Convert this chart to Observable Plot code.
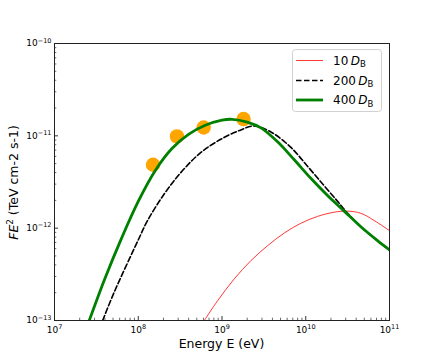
<!DOCTYPE html>
<html>
<head>
<meta charset="utf-8">
<script src="https://cdn.jsdelivr.net/npm/d3@7"></script>
<script src="https://cdn.jsdelivr.net/npm/@observablehq/plot@0.6"></script>
<style>
  html, body { margin: 0; padding: 0; background: #fff; }
  #chart { position: absolute; left: 0; top: 0; }
</style>
</head>
<body>
<div id="chart"></div>
<script>
// ---- data ----
const seriesLabels = ["10", "200", "400"];

const energy10 = [6.15e8, 8.87e8, 1.40e9, 2.22e9, 3.51e9, 5.55e9, 8.75e9, 1.38e10, 2.19e10, 3.16e10, 4.55e10, 6.56e10, 1.0e11];
const flux10   = [1.00e-13, 1.64e-13, 2.82e-13, 4.46e-13, 6.47e-13, 8.87e-13, 1.13e-12, 1.34e-12, 1.49e-12, 1.53e-12, 1.45e-12, 1.21e-12, 9.40e-13];

const energy200 = [3.76e7, 5.13e7, 1.0e8, 1.29e8, 2.04e8, 3.24e8, 5.60e8, 1.0e9, 1.68e9, 2.42e9, 3.84e9, 6.64e9, 1.05e10, 1.66e10, 2.40e10, 3.16e10, 4.55e10, 7.19e10, 1.0e11];
const flux200   = [1.00e-13, 2.00e-13, 7.45e-13, 1.205e-12, 2.34e-12, 4.02e-12, 6.61e-12, 9.33e-12, 1.16e-11, 1.28e-11, 1.10e-11, 7.50e-12, 4.68e-12, 2.88e-12, 1.95e-12, 1.45e-12, 1.035e-12, 7.33e-13, 5.81e-13];

const energy400 = [2.60e7, 3.98e7, 6.31e7, 1.0e8, 1.585e8, 2.51e8, 3.98e8, 6.31e8, 1.0e9, 1.32e9, 2.0e9, 2.92e9, 4.61e9, 7.29e9, 1.15e10, 1.82e10, 2.88e10, 4.55e10, 7.19e10, 1.0e11];
const flux400   = [1.00e-13, 2.82e-13, 7.76e-13, 1.95e-12, 4.17e-12, 7.24e-12, 1.035e-11, 1.30e-11, 1.48e-11, 1.51e-11, 1.41e-11, 1.22e-11, 8.61e-12, 5.50e-12, 3.47e-12, 2.26e-12, 1.53e-12, 1.035e-12, 7.33e-13, 5.81e-13];

const obsEnergy = [1.50e8, 2.90e8, 6.04e8, 1.81e9];
const obsFlux   = [4.86e-12, 9.86e-12, 1.23e-11, 1.52e-11];

const xTickValues = [1e7, 1e8, 1e9, 1e10, 1e11];
const xTickExps   = ["7", "8", "9", "10", "11"];
const yTickValues = [1e-13, 1e-12, 1e-11, 1e-10];
const yTickExps   = ["\u221213", "\u221212", "\u221211", "\u221210"];

const xLabel = "Energy E (eV)";
const yLabel = ["FE", "2", " (TeV cm-2 s-1)"];

// ---- tables ----
const zipSeries = (E, F) => E.map((e, i) => ({E: e, F: F[i]}));
const s10 = zipSeries(energy10, flux10);
const s200 = zipSeries(energy200, flux200);
const s400 = zipSeries(energy400, flux400);
const obs = zipSeries(obsEnergy, obsFlux);

// minor log ticks (axis decoration)
const minorBetween = (lo, hi) => {
  const out = [];
  for (let k = lo; k < hi; k++) for (let m = 2; m <= 9; m++) out.push(m * Math.pow(10, k));
  return out;
};
const xMinor = minorBetween(7, 11);
const yMinor = minorBetween(-13, -10);

const W = 432, H = 360;
const mL = 54, mR = 43, mT = 43, mB = 40;
const frameW = W - mL - mR, frameH = H - mT - mB;

const xFmt = new Map(xTickValues.map((v, i) => [v, "10^" + xTickExps[i]]));
const yFmt = new Map(yTickValues.map((v, i) => [v, "10^" + yTickExps[i]]));

const svg = Plot.plot({
  width: W, height: H,
  marginLeft: mL, marginRight: mR, marginTop: mT, marginBottom: mB,
  style: {fontFamily: "DejaVu Sans", background: "#fff", color: "#000"},
  x: {type: "log", domain: [1e7, 1e11]},
  y: {type: "log", domain: [1e-13, 1e-10]},
  marks: [
    Plot.dot(obs, {x: "E", y: "F", r: 7.2, fill: "#FFA500", stroke: "none"}),
    Plot.line(s10, {x: "E", y: "F", stroke: "#ff2020", strokeWidth: 0.9, curve: "catmull-rom", clip: true}),
    Plot.line(s200, {x: "E", y: "F", stroke: "#000", strokeWidth: 1.6, strokeDasharray: "5.5,2.5", curve: "catmull-rom", clip: true}),
    Plot.line(s400, {x: "E", y: "F", stroke: "#008000", strokeWidth: 2.8, curve: "catmull-rom", clip: true}),
    Plot.tickX(xTickValues.slice(1, -1), {x: d => d, insetTop: frameH - 4, stroke: "#000", strokeWidth: 0.8}),
    Plot.tickX(xMinor, {x: d => d, insetTop: frameH - 2.3, stroke: "#000", strokeWidth: 0.6}),
    Plot.tickY(yTickValues.slice(1, -1), {y: d => d, insetRight: frameW - 4, stroke: "#000", strokeWidth: 0.8}),
    Plot.tickY(yMinor, {y: d => d, insetRight: frameW - 2.3, stroke: "#000", strokeWidth: 0.6}),
    Plot.axisX(xTickValues, {tickSize: 0, tickPadding: 6, fontSize: 9, label: null, tickFormat: v => xFmt.get(v)}),
    Plot.axisY(yTickValues, {tickSize: 0, tickPadding: 3, fontSize: 9, label: null, tickFormat: v => yFmt.get(v)}),
    Plot.frame({stroke: "#222", strokeWidth: 1})
  ]
});

document.getElementById("chart").appendChild(svg);
const root = d3.select(svg);

// superscripts in tick labels
function toSup(sel) {
  root.selectAll(sel).each(function () {
    const txt = this.textContent;
    if (!txt.includes("^")) return;
    const [base, exp] = txt.split("^");
    const t = d3.select(this);
    t.text(null);
    t.append("tspan").text(base);
    t.append("tspan").attr("dy", "-3.8").attr("font-size", "6.5").text(exp);
  });
}
toSup('g[aria-label="x-axis tick label"] text');
toSup('g[aria-label="y-axis tick label"] text');

// axis titles
root.append("text")
  .attr("x", mL + frameW / 2).attr("y", 348)
  .attr("text-anchor", "middle").attr("font-size", 12.5).attr("fill", "#000")
  .text(xLabel);

const yl = root.append("text")
  .attr("transform", `translate(17.5,${mT + frameH / 2 + 1}) rotate(-90)`)
  .attr("text-anchor", "middle").attr("font-size", 12.5).attr("fill", "#000");
yl.append("tspan").attr("font-style", "italic").text(yLabel[0]);
yl.append("tspan").attr("dy", -4.8).attr("font-size", 8.8).text(yLabel[1]);
yl.append("tspan").attr("dy", 4.8).text(yLabel[2]);

// legend
const lg = root.append("g").attr("aria-label", "legend");
lg.append("rect").attr("x", 292.5).attr("y", 49.5).attr("width", 89).attr("height", 62)
  .attr("rx", 3).attr("fill", "#fff").attr("fill-opacity", 0.85).attr("stroke", "#d0d0d0").attr("stroke-width", 1);
const legendStyles = [
  {stroke: "#ff2020", width: 0.9, dash: null},
  {stroke: "#000", width: 1.6, dash: "5.5,2.5"},
  {stroke: "#008000", width: 2.8, dash: null}
];
const rowY = [60.5, 80.5, 100];
seriesLabels.forEach((lab, i) => {
  const st = legendStyles[i];
  const ln = lg.append("line").attr("x1", 296).attr("x2", 323).attr("y1", rowY[i]).attr("y2", rowY[i])
    .attr("stroke", st.stroke).attr("stroke-width", st.width);
  if (st.dash) ln.attr("stroke-dasharray", st.dash);
  const t = lg.append("text").attr("x", 333).attr("y", rowY[i] + 4.3)
    .attr("text-anchor", "start").attr("font-size", 12).attr("fill", "#000");
  t.append("tspan").text(lab + "\u2009");
  t.append("tspan").attr("font-style", "italic").text("D");
  t.append("tspan").attr("dy", 2.3).attr("font-size", 8.5).text("B");
});
</script>
</body>
</html>
